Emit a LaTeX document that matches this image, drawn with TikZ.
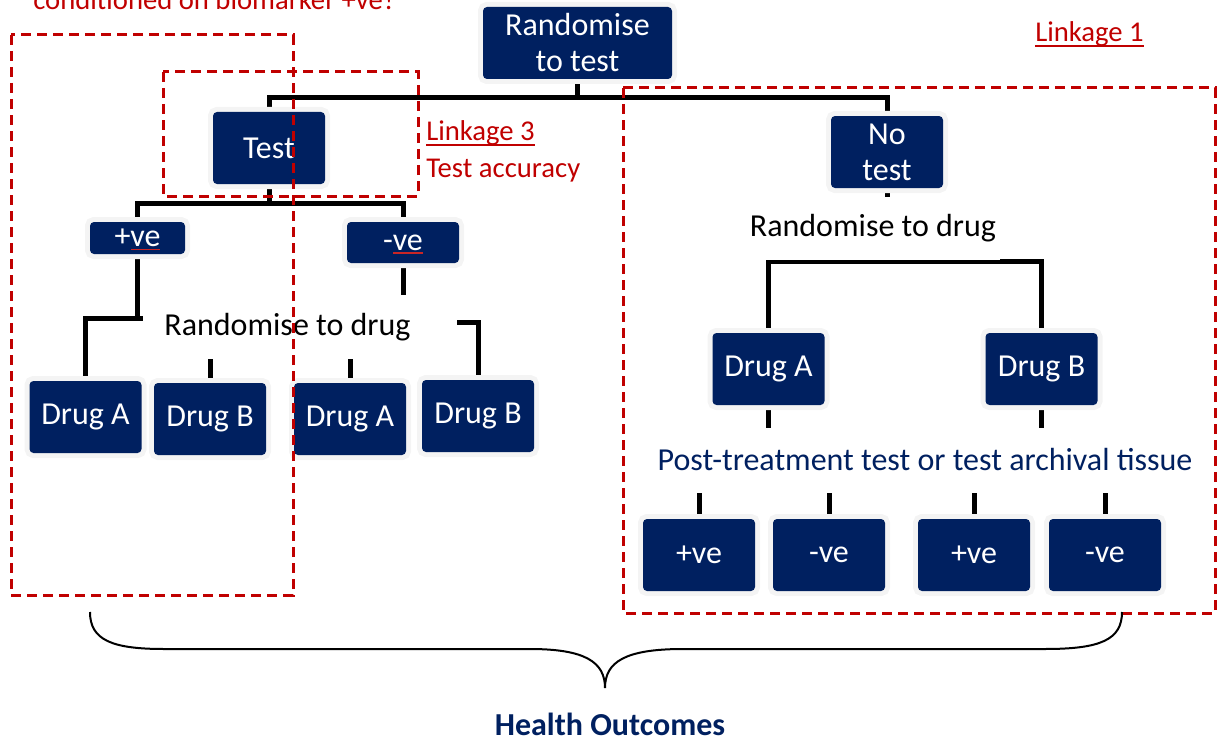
\documentclass[tikz,border=0pt]{standalone}
\usepackage{fontspec}
\setmainfont{Carlito}
\usetikzlibrary{backgrounds}
\definecolor{navy}{RGB}{0,32,96}
\definecolor{lred}{RGB}{192,0,0}
\definecolor{glow}{RGB}{244,244,244}
\tikzset{
  box/.style={fill=navy, text=white, rounded corners=3pt, inner sep=0pt,
    font=\fontsize{24}{27}\selectfont, align=center,
    preaction={draw=glow, line width=7.5pt}},
  drugbox/.style={box, minimum width=84pt, minimum height=54pt},
  conn/.style={line width=3.75pt, black},
  link/.style={draw=lred, line width=2.25pt, dash pattern=on 7.5pt off 4.5pt},
  lbl/.style={font=\fontsize{24}{27}\selectfont, inner sep=0pt},
  redtxt/.style={text=lred, font=\fontsize{21.5}{26}\selectfont, inner sep=0pt, anchor=base west},
  uline/.style={draw=lred, line width=1.6pt},
  squig/.style={draw=lred!85, line width=0.8pt}
}
\begin{document}
\begin{tikzpicture}[x=0.75pt,y=-0.75pt]
\useasboundingbox (0,0) rectangle (1221,742);
\clip (0,0) rectangle (1221,742);

% boxes
\node[box, minimum width=141.75pt, minimum height=54pt] (rt) at (577.5,43) {Randomise\\to test};
\node[box, minimum width=84pt, minimum height=54pt] (test) at (269,148) {Test};
\node[box, minimum width=84pt, minimum height=54pt] (notest) at (887,152) {No\\test};
\node[box, minimum width=71.25pt, minimum height=24pt] (pos) at (137.5,238) {+ve};
\node[box, minimum width=84pt, minimum height=30.75pt] (neg) at (403,242.5) {-ve};

\node[drugbox] (dA1) at (85.5,417) {Drug A};
\node[drugbox] (dB1) at (210,419) {Drug B};
\node[drugbox] (dA2) at (350,419) {Drug A};
\node[drugbox] (dB2) at (478,416) {Drug B};
\node[drugbox] (dA3) at (768.5,369) {Drug A};
\node[drugbox] (dB3) at (1041.5,369) {Drug B};

\node[drugbox] (p3) at (699,555) {+ve};
\node[drugbox] (n3) at (829,555) {-ve};
\node[drugbox] (p4) at (974,555) {+ve};
\node[drugbox] (n4) at (1105,555) {-ve};

% connectors
\begin{scope}[on background layer]
\draw[conn] (rt.south) -- ++(0,18) -| (test.north);
\draw[conn] (rt.south) -- ++(0,18) -| (notest.north);
\draw[conn] (test.south) -- ++(0,19) -| (pos.north);
\draw[conn] (test.south) -- ++(0,19) -| (neg.north);
\draw[conn] (pos.south) -- ++(0,64) -| (dA1.north);
\draw[conn] (pos.south) -- ++(0,64) -| (dB1.north);
\draw[conn] (neg.south) -- ++(0,59) -| (dA2.north);
\draw[conn] (neg.south) -- ++(0,59) -| (dB2.north);
\draw[conn] (notest.south) -- ++(0,73) -| (dA3.north);
\draw[conn] (notest.south) -- ++(0,73) -| (dB3.north);
\draw[conn] (dA3.south) -- ++(0,65) -| (p3.north);
\draw[conn] (dA3.south) -- ++(0,65) -| (n3.north);
\draw[conn] (dB3.south) -- ++(0,65) -| (p4.north);
\draw[conn] (dB3.south) -- ++(0,65) -| (n4.north);
\end{scope}

% white masks behind the labels
\fill[white] (143,295) rectangle (457,359);
\fill[white] (745,197) rectangle (1000,259.5);
\fill[white] (645,428) rectangle (1205,493);

% labels
\node[lbl] (rd1) at (287.5,327) {Randomise to drug};
\node[lbl] (rd2) at (873,228) {Randomise to drug};
\node[lbl, text=navy] (post) at (925,460) {Post-treatment test or test archival tissue};
\node[lbl, text=navy, font=\fontsize{24}{27}\selectfont\bfseries] (ho) at (610,724) {Health Outcomes};

% spell-check marks
\draw[squig] (131,249.5) -- (160,249.5);
\draw[squig] (393,253) -- (423,253);

% red annotations
\node[redtxt] (l2) at (33,10) {conditioned on biomarker +ve?};
\node[redtxt] (l1) at (1035,42) {Linkage 1};
\node[redtxt] (l3) at (426,141) {Linkage 3};
\node[redtxt] (ta) at (426,177) {Test accuracy};
\draw[uline] ([yshift=-3.2pt]l1.base west) -- ([yshift=-3.2pt]l1.base east);
\draw[uline] ([yshift=-3.2pt]l3.base west) -- ([yshift=-3.2pt]l3.base east);

\draw[link] (11,35) rectangle (293,595);
\draw[link] (163,72) rectangle (418,196);
\draw[link] (623,88) rectangle (1215,613);

% brace
\draw[line width=1.5pt] (90,612) .. controls (90,640) and (112,649) .. (164,649)
  -- (530,649) .. controls (585,649) and (605,662) .. (605,688)
  .. controls (605,662) and (625,649) .. (683,649)
  -- (1045,649) .. controls (1100,649) and (1122,640) .. (1122,612);
\end{tikzpicture}
\end{document}
